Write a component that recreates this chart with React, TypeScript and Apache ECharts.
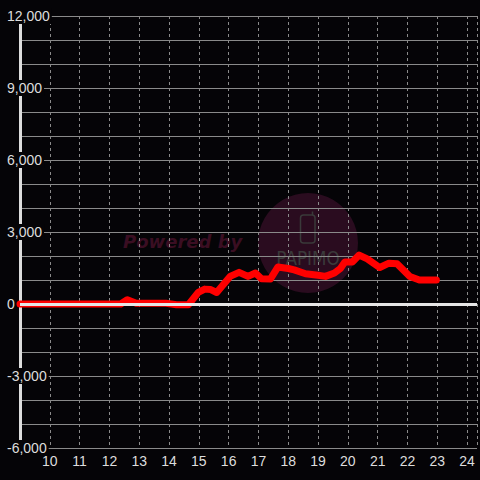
import React, { useEffect, useRef } from "react";
import * as echarts from "echarts";

const hours: number[] = [9.0, 12.38, 12.6, 12.9, 13.9, 14.25, 14.65, 14.98, 15.2, 15.4, 15.6, 16.05, 16.35, 16.65, 16.9, 17.1, 17.4, 17.65, 18.0, 18.2, 18.58, 19.0, 19.25, 19.55, 19.75, 19.9, 20.15, 20.38, 20.65, 21.07, 21.38, 21.65, 22.08, 22.4, 22.97];
const values: number[] = [0, 0, 180, 30, 30, -30, -30, 480, 620, 600, 480, 1150, 1320, 1150, 1290, 1050, 1040, 1540, 1480, 1420, 1260, 1200, 1150, 1290, 1480, 1750, 1750, 2040, 1880, 1520, 1700, 1680, 1150, 1000, 1000];
const xTickLabels: number[] = [10, 11, 12, 13, 14, 15, 16, 17, 18, 19, 20, 21, 22, 23, 24];
const yTickLabels: number[] = [-6000, -3000, 0, 3000, 6000, 9000, 12000];

const BG = "#050407";
const TXT = "#dddddd";

export default function App() {
  const ref = useRef<HTMLDivElement>(null);
  useEffect(() => {
    if (!ref.current) return;
    const chart = echarts.init(ref.current, null, { renderer: "svg" });
    const data = hours.map((h, i) => [h, values[i]]);
    chart.setOption({
      animation: false,
      backgroundColor: BG,
      grid: { left: 20, right: 0, top: 16, bottom: 32, containLabel: false },
      graphic: [
        {
          type: "circle",
          z: -1,
          shape: { cx: 308, cy: 243, r: 50 },
          style: { fill: "#2a0c1f" },
        },
        {
          type: "text",
          z: -1,
          x: 123,
          y: 241,
          style: {
            text: "Powered by",
            fill: "#3a0e22",
            font: "italic bold 18px 'DejaVu Sans'",
            verticalAlign: "middle",
            align: "left",
          },
        },
        {
          type: "rect",
          z: -1,
          shape: { x: 300.5, y: 215, width: 14.5, height: 28, r: 3 },
          style: { fill: "none", stroke: "#3a3a3a", lineWidth: 1.5 },
        },
        {
          type: "line",
          z: -1,
          shape: { x1: 312.5, y1: 211.5, x2: 312.5, y2: 215 },
          style: { stroke: "#3a3a3a", lineWidth: 1.5 },
        },
        {
          type: "text",
          z: -1,
          x: 308,
          y: 258,
          scaleX: 0.84,
          originX: 0,
          originY: 0,
          style: {
            text: "PAPIMO",
            fill: "#3a3a3a",
            font: "20px 'DejaVu Sans'",
            align: "center",
            verticalAlign: "middle",
          },
        },
      ],
      xAxis: {
        type: "value",
        min: 9,
        max: 24.333,
        interval: 1,
        axisLine: { show: false },
        axisTick: { show: false },
        axisLabel: {
          color: TXT,
          fontSize: 14,
          fontFamily: "Liberation Sans",
          margin: 6,
          formatter: (v: number) => (xTickLabels.includes(v) ? String(v) : ""),
        },
        splitLine: {
          show: true,
          lineStyle: { color: "#8a8a8a", type: [3, 3], width: 1 },
        },
      },
      yAxis: {
        type: "value",
        min: -6000,
        max: 12000,
        interval: 1000,
        axisLine: { show: true, lineStyle: { color: TXT, width: 3 } },
        axisTick: { show: false },
        axisLabel: {
          color: TXT,
          fontSize: 14,
          fontFamily: "Liberation Sans",
          align: "left",
          margin: 13,
          backgroundColor: BG,
          padding: [1, 2, 1, 0],
          formatter: (v: number) =>
            yTickLabels.includes(v) ? v.toLocaleString("en-US") : "",
        },
        splitLine: { show: true, lineStyle: { color: "#8a8a8a", width: 1 } },
      },
      series: [
        {
          type: "line",
          data: [],
          z: 1,
          silent: true,
          markLine: {
            symbol: "none",
            silent: true,
            label: { show: false },
            lineStyle: { color: "#e6e6e6", width: 3, type: "solid" },
            data: [{ yAxis: 0 }],
          },
        },
        {
          type: "line",
          data,
          z: 3,
          showSymbol: false,
          symbol: "none",
          lineStyle: { color: "#ff0000", width: 7, join: "round", cap: "round" },
        },
      ],
    });
    return () => chart.dispose();
  }, []);
  return (
    <div
      ref={ref}
      style={{ position: "fixed", left: 0, top: 0, width: 480, height: 480 }}
    />
  );
}
